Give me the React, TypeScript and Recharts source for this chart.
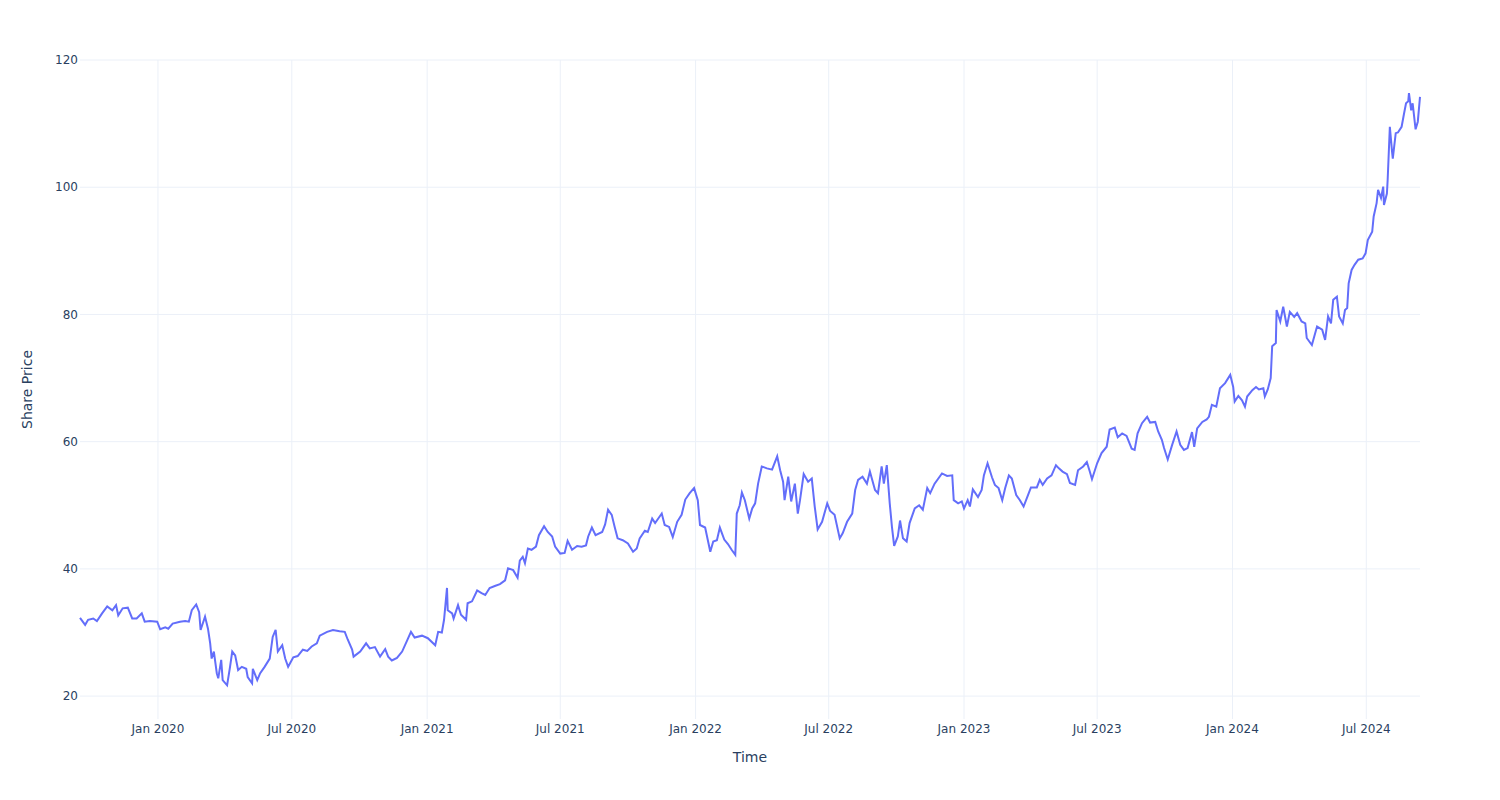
import React from 'react';
import { LineChart, Line, XAxis, YAxis, CartesianGrid } from 'recharts';

const dates = [
  '2019-09-17', '2019-09-24', '2019-09-28', '2019-10-05', '2019-10-10', '2019-10-17', '2019-10-24', '2019-10-31',
  '2019-11-05', '2019-11-08', '2019-11-14', '2019-11-21', '2019-11-27', '2019-12-03', '2019-12-10', '2019-12-14',
  '2019-12-21', '2019-12-31', '2020-01-04', '2020-01-11', '2020-01-15', '2020-01-21', '2020-01-31', '2020-02-07',
  '2020-02-12', '2020-02-16', '2020-02-22', '2020-02-26', '2020-02-28', '2020-03-05', '2020-03-09', '2020-03-12',
  '2020-03-14', '2020-03-17', '2020-03-21', '2020-03-23', '2020-03-27', '2020-03-29', '2020-04-04', '2020-04-08',
  '2020-04-11', '2020-04-15', '2020-04-19', '2020-04-24', '2020-04-30', '2020-05-02', '2020-05-08', '2020-05-09',
  '2020-05-15', '2020-05-19', '2020-05-25', '2020-06-01', '2020-06-05', '2020-06-09', '2020-06-12', '2020-06-18',
  '2020-06-22', '2020-06-26', '2020-07-03', '2020-07-09', '2020-07-16', '2020-07-22', '2020-07-28', '2020-08-04',
  '2020-08-08', '2020-08-18', '2020-08-26', '2020-09-04', '2020-09-11', '2020-09-15', '2020-09-21', '2020-09-23',
  '2020-10-02', '2020-10-10', '2020-10-15', '2020-10-22', '2020-10-29', '2020-11-05', '2020-11-09', '2020-11-14',
  '2020-11-21', '2020-11-28', '2020-12-05', '2020-12-10', '2020-12-15', '2020-12-25', '2021-01-02', '2021-01-12',
  '2021-01-16', '2021-01-21', '2021-01-24', '2021-01-28', '2021-01-29', '2021-02-04', '2021-02-06', '2021-02-12',
  '2021-02-16', '2021-02-23', '2021-02-25', '2021-03-03', '2021-03-10', '2021-03-16', '2021-03-21', '2021-03-27',
  '2021-04-03', '2021-04-10', '2021-04-17', '2021-04-21', '2021-04-28', '2021-05-04', '2021-05-07', '2021-05-11',
  '2021-05-14', '2021-05-18', '2021-05-23', '2021-05-29', '2021-06-02', '2021-06-09', '2021-06-14', '2021-06-20',
  '2021-06-24', '2021-07-01', '2021-07-07', '2021-07-11', '2021-07-17', '2021-07-24', '2021-07-30', '2021-08-05',
  '2021-08-08', '2021-08-13', '2021-08-18', '2021-08-27', '2021-08-31', '2021-09-04', '2021-09-09', '2021-09-13',
  '2021-09-17', '2021-09-24', '2021-10-01', '2021-10-08', '2021-10-13', '2021-10-17', '2021-10-24', '2021-10-28',
  '2021-11-03', '2021-11-07', '2021-11-16', '2021-11-20', '2021-11-26', '2021-12-01', '2021-12-07', '2021-12-13',
  '2021-12-18', '2021-12-24', '2021-12-30', '2022-01-04', '2022-01-07', '2022-01-14', '2022-01-21', '2022-01-25',
  '2022-01-30', '2022-02-03', '2022-02-09', '2022-02-14', '2022-02-19', '2022-02-24', '2022-02-26', '2022-03-02',
  '2022-03-05', '2022-03-09', '2022-03-15', '2022-03-19', '2022-03-23', '2022-03-27', '2022-04-01', '2022-04-08',
  '2022-04-15', '2022-04-22', '2022-04-26', '2022-04-30', '2022-05-02', '2022-05-07', '2022-05-11', '2022-05-16',
  '2022-05-20', '2022-05-23', '2022-05-28', '2022-06-03', '2022-06-08', '2022-06-12', '2022-06-16', '2022-06-22',
  '2022-06-29', '2022-07-03', '2022-07-09', '2022-07-16', '2022-07-20', '2022-07-26', '2022-08-02', '2022-08-06',
  '2022-08-10', '2022-08-16', '2022-08-22', '2022-08-26', '2022-09-02', '2022-09-06', '2022-09-11', '2022-09-14',
  '2022-09-18', '2022-09-22', '2022-09-25', '2022-09-28', '2022-10-03', '2022-10-06', '2022-10-10', '2022-10-15',
  '2022-10-19', '2022-10-26', '2022-11-01', '2022-11-06', '2022-11-12', '2022-11-16', '2022-11-22', '2022-12-02',
  '2022-12-09', '2022-12-16', '2022-12-18', '2022-12-24', '2022-12-29', '2023-01-01', '2023-01-06', '2023-01-09',
  '2023-01-13', '2023-01-20', '2023-01-25', '2023-01-28', '2023-02-02', '2023-02-08', '2023-02-12', '2023-02-17',
  '2023-02-22', '2023-02-26', '2023-03-03', '2023-03-07', '2023-03-13', '2023-03-18', '2023-03-23', '2023-03-29',
  '2023-04-02', '2023-04-10', '2023-04-14', '2023-04-18', '2023-04-24', '2023-04-30', '2023-05-06', '2023-05-10',
  '2023-05-15', '2023-05-21', '2023-05-25', '2023-06-01', '2023-06-05', '2023-06-12', '2023-06-17', '2023-06-21',
  '2023-06-24', '2023-07-01', '2023-07-07', '2023-07-14', '2023-07-18', '2023-07-25', '2023-07-29', '2023-08-04',
  '2023-08-10', '2023-08-17', '2023-08-21', '2023-08-25', '2023-08-31', '2023-09-07', '2023-09-11', '2023-09-18',
  '2023-09-22', '2023-09-27', '2023-09-30', '2023-10-05', '2023-10-11', '2023-10-17', '2023-10-22', '2023-10-27',
  '2023-11-01', '2023-11-07', '2023-11-10', '2023-11-14', '2023-11-21', '2023-11-27', '2023-11-30', '2023-12-04',
  '2023-12-10', '2023-12-15', '2023-12-22', '2023-12-29', '2024-01-02', '2024-01-04', '2024-01-09', '2024-01-14',
  '2024-01-18', '2024-01-21', '2024-01-28', '2024-02-02', '2024-02-06', '2024-02-12', '2024-02-14', '2024-02-18',
  '2024-02-22', '2024-02-24', '2024-02-29', '2024-03-01', '2024-03-06', '2024-03-10', '2024-03-15', '2024-03-19',
  '2024-03-25', '2024-03-29', '2024-04-04', '2024-04-09', '2024-04-11', '2024-04-18', '2024-04-25', '2024-05-02',
  '2024-05-06', '2024-05-10', '2024-05-14', '2024-05-17', '2024-05-22', '2024-05-25', '2024-05-30', '2024-06-02',
  '2024-06-05', '2024-06-07', '2024-06-11', '2024-06-15', '2024-06-20', '2024-06-26', '2024-06-30', '2024-07-03',
  '2024-07-09', '2024-07-11', '2024-07-15', '2024-07-17', '2024-07-21', '2024-07-24', '2024-07-25', '2024-07-29',
  '2024-07-30', '2024-08-02', '2024-08-05', '2024-08-06', '2024-08-10', '2024-08-13', '2024-08-18', '2024-08-21',
  '2024-08-24', '2024-08-27', '2024-08-28', '2024-08-31', '2024-09-02', '2024-09-06', '2024-09-09', '2024-09-12',
];

const prices = [
  32.3, 31.2, 32.0, 32.2, 31.8, 33.0, 34.1, 33.5,
  34.3, 32.7, 33.8, 33.9, 32.2, 32.2, 33.0, 31.7,
  31.8, 31.7, 30.5, 30.8, 30.6, 31.4, 31.7, 31.8,
  31.7, 33.5, 34.4, 33.2, 30.4, 32.5, 30.6, 28.3,
  25.9, 27.0, 23.6, 22.8, 25.7, 22.5, 21.7, 24.6,
  27.0, 26.4, 24.1, 24.6, 24.3, 23.0, 22.0, 24.3,
  22.5, 23.6, 24.6, 25.9, 29.3, 30.4, 27.0, 28.0,
  25.9, 24.6, 26.1, 26.3, 27.3, 27.1, 27.8, 28.3,
  29.5, 30.1, 30.4, 30.2, 30.1, 28.9, 27.3, 26.2,
  27.0, 28.3, 27.5, 27.7, 26.2, 27.4, 26.2, 25.6,
  26.0, 27.0, 28.8, 30.1, 29.2, 29.5, 29.1, 28.0,
  30.1, 30.0, 32.0, 37.0, 33.5, 33.0, 32.2, 34.3,
  32.8, 32.0, 34.6, 34.9, 36.6, 36.2, 35.9, 37.0,
  37.3, 37.6, 38.2, 40.1, 39.8, 38.6, 41.3, 41.9,
  40.9, 43.2, 43.0, 43.5, 45.3, 46.7, 45.8, 45.1,
  43.5, 42.4, 42.5, 44.4, 43.0, 43.6, 43.5, 43.7,
  45.1, 46.5, 45.3, 45.8, 47.0, 49.3, 48.5, 46.6,
  44.8, 44.5, 44.0, 42.7, 43.2, 44.8, 46.0, 45.8,
  47.9, 47.2, 48.7, 46.9, 46.6, 45.0, 47.4, 48.5,
  50.9, 51.9, 52.7, 50.8, 46.9, 46.5, 42.7, 44.3,
  44.5, 46.5, 44.6, 43.9, 43.0, 42.2, 48.7, 50.0,
  52.0, 50.8, 47.9, 49.5, 50.3, 53.4, 56.1, 55.8,
  55.6, 57.7, 55.5, 53.7, 50.8, 54.5, 50.6, 53.4,
  48.7, 50.8, 54.9, 53.7, 54.2, 49.8, 46.2, 47.4,
  50.3, 49.1, 48.5, 44.8, 45.6, 47.4, 48.7, 52.4,
  54.0, 54.5, 53.4, 55.3, 52.4, 51.9, 56.1, 53.4,
  56.3, 50.3, 46.6, 43.6, 45.1, 47.6, 44.8, 44.3,
  47.2, 49.5, 50.0, 49.3, 52.7, 51.9, 53.4, 55.0,
  54.6, 54.7, 50.8, 50.3, 50.6, 49.5, 50.8, 49.8,
  52.5, 51.3, 52.4, 54.7, 56.6, 54.4, 53.2, 52.7,
  50.8, 52.7, 54.7, 54.2, 51.6, 50.8, 49.8, 51.6,
  52.8, 52.8, 54.0, 53.2, 54.2, 54.7, 56.3, 55.8,
  55.3, 54.9, 53.5, 53.2, 55.5, 56.1, 56.8, 55.3,
  54.1, 56.6, 58.2, 59.2, 61.9, 62.2, 60.7, 61.3,
  60.9, 58.9, 58.7, 61.3, 62.9, 63.9, 63.0, 63.1,
  61.6, 60.3, 59.0, 57.2, 59.5, 61.6, 59.5, 58.7,
  59.0, 61.5, 59.2, 62.1, 63.1, 63.5, 63.9, 65.8,
  65.5, 68.4, 69.2, 70.5, 68.6, 66.3, 67.2, 66.5,
  65.5, 67.1, 68.1, 68.6, 68.2, 68.4, 67.1, 68.2,
  70.0, 75.0, 75.5, 80.7, 78.9, 81.2, 78.1, 80.4,
  79.6, 80.2, 78.9, 78.6, 76.3, 75.2, 78.1, 77.6,
  76.0, 79.7, 78.6, 82.3, 82.8, 79.7, 78.6, 80.7,
  81.0, 84.9, 87.0, 87.8, 88.6, 88.8, 89.6, 91.7,
  93.0, 95.4, 97.5, 99.6, 98.3, 100.1, 97.2, 99.0,
  101.1, 109.5, 105.6, 104.5, 108.5, 108.6, 109.5, 111.4,
  113.2, 113.5, 114.8, 112.1, 113.2, 109.1, 110.3, 114.2,
];

const tickDates = [
  '2020-01-01', '2020-07-01', '2021-01-01', '2021-07-01', '2022-01-01',
  '2022-07-01', '2023-01-01', '2023-07-01', '2024-01-01', '2024-07-01',
];
const priceTicks = [20, 40, 60, 80, 100, 120];
const monthNames = ['Jan', 'Feb', 'Mar', 'Apr', 'May', 'Jun', 'Jul', 'Aug', 'Sep', 'Oct', 'Nov', 'Dec'];

const data = dates.map((d, i) => ({ t: Date.parse(d), price: prices[i] }));
const xTicks = tickDates.map((d) => Date.parse(d));
const xDomain = [data[0].t, data[data.length - 1].t];
const yDomain = [16.4, 120];

const fmtDate = (v) => {
  const d = new Date(v);
  return `${monthNames[d.getUTCMonth()]} ${d.getUTCFullYear()}`;
};

const textColor = '#2a3f5f';
const gridColor = '#EBF0F8';

// grid only at the tick values (no frame on the plot edges)
const hLines = ({ offset }) =>
  priceTicks.map((v) => offset.top + ((yDomain[1] - v) / (yDomain[1] - yDomain[0])) * offset.height);
const vLines = ({ offset }) =>
  xTicks.map((v) => offset.left + ((v - xDomain[0]) / (xDomain[1] - xDomain[0])) * offset.width);

export default function App() {
  return (
    <div style={{ position: 'absolute', left: 0, top: 0, fontFamily: '"DejaVu Sans", sans-serif' }}>
      <LineChart width={1500} height={800} data={data} margin={{ top: 60, right: 80, left: 0, bottom: 0 }}>
        <CartesianGrid
          stroke={gridColor}
          strokeWidth={1}
          horizontalCoordinatesGenerator={hLines}
          verticalCoordinatesGenerator={vLines}
        />
        <XAxis
          dataKey="t"
          type="number"
          domain={xDomain}
          ticks={xTicks}
          interval={0}
          tickFormatter={fmtDate}
          height={81}
          axisLine={false}
          tickLine={false}
          tickSize={0}
          tickMargin={5}
          tick={{ fill: textColor, fontSize: 12 }}
          label={{ value: 'Time', position: 'insideBottom', offset: 38, fill: textColor, fontSize: 14 }}
        />
        <YAxis
          type="number"
          domain={yDomain}
          ticks={priceTicks}
          interval={0}
          width={80}
          axisLine={false}
          tickLine={false}
          tickSize={0}
          tickMargin={2}
          tick={{ fill: textColor, fontSize: 12 }}
          label={{
            value: 'Share Price',
            angle: -90,
            position: 'insideLeft',
            offset: 27,
            fill: textColor,
            fontSize: 14,
            style: { textAnchor: 'middle' },
          }}
        />
        <Line
          type="linear"
          dataKey="price"
          stroke="#636efa"
          strokeWidth={2}
          dot={false}
          isAnimationActive={false}
        />
      </LineChart>
    </div>
  );
}
